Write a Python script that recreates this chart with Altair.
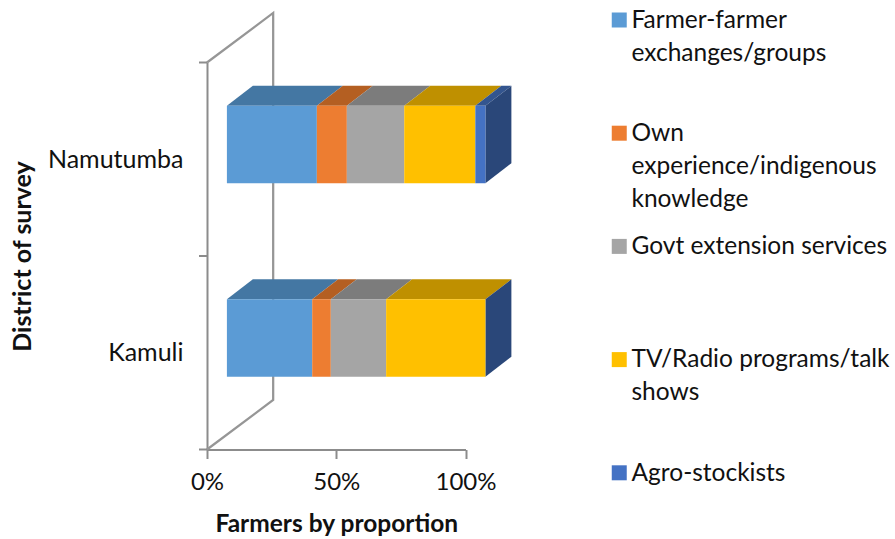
import json
import altair as alt
import pandas as pd

# Share of farmers (%) per information source, by district
districts = ["Kamuli", "Namutumba"]
sources = [
    "Farmer-farmer exchanges/groups",
    "Own experience/indigenous knowledge",
    "Govt extension services",
    "TV/Radio programs/talk shows",
    "Agro-stockists",
]
kamuli_shares = [33.0, 7.2, 21.4, 38.4, 0.0]
namutumba_shares = [34.8, 11.6, 22.2, 27.5, 3.9]

# Wrapped legend text; every entry has three lines so the rows are equally tall
legend_lines = {
    sources[0]: ["Farmer-farmer", "exchanges/groups", " "],
    sources[1]: ["Own", "experience/indigenous", "knowledge"],
    sources[2]: ["Govt extension services", " ", " "],
    sources[3]: ["TV/Radio programs/talk", "shows", " "],
    sources[4]: ["Agro-stockists", " ", " "],
}

front_colors = ["#5B9BD5", "#ED7D31", "#A5A5A5", "#FFC000", "#4472C4"]
top_colors = ["#4477A3", "#B45F22", "#7C7C7C", "#BF9000", "#33558F"]
side_color = "#2A4779"
wall_color = "#969696"
axis_color = "#8C8C8C"
font = "Lato"

# Oblique projection, in data units
gap_x = 7.7
depth_x = 10.05
depth_y = 0.1034
wall_x = 25.6
wall_y = 0.256
bar_base = 0.376
bar_height = 0.4

fronts, faces = [], []
for d, shares in enumerate([kamuli_shares, namutumba_shares]):
    low, high = d + bar_base, d + bar_base + bar_height
    start = gap_x
    for s, share in enumerate(shares):
        end = start + share
        fronts.append({"source": sources[s], "x": start, "x2": end, "y": low, "y2": high})
        if share > 0:
            corners = [
                (start, high),
                (end, high),
                (end + depth_x, high + depth_y),
                (start + depth_x, high + depth_y),
            ]
            for i, (px, py) in enumerate(corners):
                faces.append({"face": f"top{d}{s}", "fill": top_colors[s], "i": i, "x": px, "y": py})
        start = end
    corners = [
        (start, low),
        (start, high),
        (start + depth_x, high + depth_y),
        (start + depth_x, low + depth_y),
    ]
    for i, (px, py) in enumerate(corners):
        faces.append({"face": f"side{d}", "fill": side_color, "i": i, "x": px, "y": py})

wall = pd.DataFrame(
    [
        {"x": 0, "y": 0},
        {"x": wall_x, "y": wall_y},
        {"x": wall_x, "y": 2 + wall_y},
        {"x": 0, "y": 2},
    ]
).reset_index(names="i")

x_scale = alt.Scale(domain=[0, 100], nice=False, zero=False)
y_scale = alt.Scale(domain=[0, 2], nice=False, zero=False)

x_axis = alt.Axis(
    values=[0, 50, 100],
    labelExpr="datum.value + '%'",
    title="Farmers by proportion",
    grid=False,
    domainColor=axis_color,
    domainWidth=2,
    tickColor=axis_color,
    tickWidth=2,
    tickSize=9,
    labelFont=font,
    labelFontSize=24,
    labelColor="#111111",
    labelPadding=12,
    labelFlush=False,
    titleFont=font,
    titleFontSize=24.5,
    titleFontWeight="bold",
    titleColor="#111111",
    titlePadding=18,
)
y_axis = alt.Axis(
    values=[0.5, 1.5],
    labelExpr=f"{json.dumps(districts)}[floor(datum.value)]",
    title="District of survey",
    grid=False,
    domainColor=axis_color,
    domainWidth=2,
    ticks=False,
    labelFont=font,
    labelFontSize=25,
    labelColor="#111111",
    labelPadding=24,
    titleFont=font,
    titleFontSize=25,
    titleFontWeight="bold",
    titleColor="#111111",
    titlePadding=12,
)

wall_layer = (
    alt.Chart(wall)
    .mark_line(color=wall_color, strokeWidth=2.25)
    .encode(
        x=alt.X("x:Q", scale=x_scale, axis=x_axis),
        y=alt.Y("y:Q", scale=y_scale, axis=y_axis),
        order="i:Q",
    )
)

faces_layer = (
    alt.Chart(pd.DataFrame(faces))
    .mark_line(interpolate="linear-closed", strokeWidth=0)
    .encode(
        x=alt.X("x:Q", scale=x_scale),
        y=alt.Y("y:Q", scale=y_scale),
        fill=alt.Fill("fill:N", scale=None, legend=None),
        detail="face:N",
        order="i:Q",
    )
)

# The key square sits level with the first text line, below the entry's anchor
legend = alt.Legend(
    orient="none",
    legendX=400,
    legendY=-66,
    title=None,
    symbolType="M-1,0.5H1V2.5H-1Z",
    symbolSize=225,
    symbolStrokeWidth=0,
    labelFont=font,
    labelFontSize=24.5,
    labelColor="#111111",
    labelBaseline="top",
    labelOffset=0,
    labelLimit=400,
    rowPadding=11.2,
    labelExpr=f"{json.dumps(legend_lines)}[datum.label]",
)

fronts_layer = (
    alt.Chart(pd.DataFrame(fronts))
    .mark_rect()
    .encode(
        x=alt.X("x:Q", scale=x_scale),
        x2="x2:Q",
        y=alt.Y("y:Q", scale=y_scale),
        y2="y2:Q",
        color=alt.Color(
            "source:N",
            scale=alt.Scale(domain=sources, range=front_colors),
            sort=sources,
            legend=legend,
        ),
    )
)

# Small outward ticks on the category axis, at the band boundaries
tick_layer = (
    alt.Chart(pd.DataFrame({"y": [0, 1, 2]}))
    .mark_rule(color=axis_color, strokeWidth=2)
    .encode(x=alt.value(-8), x2=alt.value(0), y=alt.Y("y:Q", scale=y_scale))
)

chart = (
    alt.layer(wall_layer, tick_layer, faces_layer, fronts_layer)
    .properties(
        width=258.5,
        height=387,
        autosize=alt.AutoSizeParams(type="none"),
        padding={"left": 207, "top": 62.5, "right": 429.5, "bottom": 89.5},
    )
    .configure(style={"guide-label": {"lineHeight": 33}})
    .configure_view(stroke="transparent")
)

chart.save("out.html", embed_options={"renderer": "svg", "actions": False})
